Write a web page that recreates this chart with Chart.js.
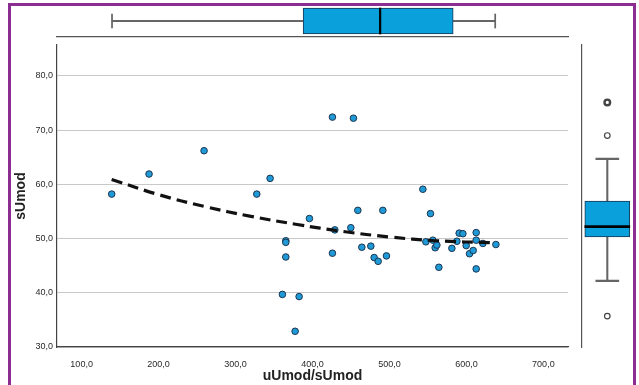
<!DOCTYPE html>
<html>
<head>
<meta charset="utf-8">
<script src="https://cdn.jsdelivr.net/npm/chart.js@4"></script>
<style>
  html, body { margin: 0; padding: 0; background: #fff; }
  body { width: 639px; height: 385px; position: relative; overflow: hidden; }
  canvas { position: absolute; }
  #frame {
    position: absolute; left: 8px; top: 3px; width: 622px; height: 420px;
    border: 3px solid #8c2d91; border-bottom: none; pointer-events: none;
  }
</style>
</head>
<body>
<canvas id="mainChart" width="639" height="385" style="left:0;top:0"></canvas>
<canvas id="topBox" width="639" height="45" style="left:0;top:0"></canvas>
<canvas id="rightBox" width="79" height="385" style="left:560px;top:0"></canvas>
<div id="frame"></div>
<script>
// uUmod/sUmod (x) and sUmod (y) per case
const uUmodRatio = [139.1, 187.6, 259.1, 327.6, 344.9, 396.0, 425.9, 453.2, 543.4, 458.9,
  491.4, 553.3, 365.3, 365.3, 365.3, 360.9, 382.6, 377.4, 429.0, 425.9,
  449.8, 464.1, 475.8, 480.1, 485.3, 496.1, 547.3, 556.4, 559.4, 561.6,
  564.2, 581.1, 587.6, 590.6, 595.4, 599.7, 604.0, 608.8, 612.7, 612.7,
  612.7, 621.4, 638.3];
const sUmod = [58.2, 61.9, 66.2, 58.2, 61.1, 53.7, 72.4, 72.2, 59.1, 55.2,
  55.2, 54.6, 49.6, 49.3, 46.6, 39.7, 39.3, 32.9, 51.6, 47.3,
  52.0, 48.4, 48.6, 46.5, 45.8, 46.8, 49.4, 49.7, 48.3, 48.8,
  44.7, 48.2, 49.5, 51.0, 50.9, 48.7, 47.2, 47.8, 51.1, 49.7,
  44.4, 49.1, 48.9];

// fitted curve
const fitX = [139, 200, 260, 320, 380, 440, 500, 560, 638];
const fitY = [60.9, 58.1, 55.9, 54.1, 52.6, 51.3, 50.3, 49.6, 49.2];

// axis ticks
const xTicks = [100, 200, 300, 400, 500, 600, 700];
const yTicks = [30, 40, 50, 60, 70, 80];

// marginal boxplots: min, q1, median, q3, max
const xBox = [139.5, 387.8, 487.9, 582.8, 637.4];
const yBox = [42.2, 50.3, 52.2, 56.9, 64.7];
const yOutliers = [75.1, 69.0, 35.7];

const X_MIN = 68, X_MAX = 732, Y_MIN = 30, Y_MAX = 85.7;

Chart.defaults.font.family = "'Liberation Sans', Arial, sans-serif";
Chart.defaults.animation = false;

const fmt = (v) => v.toFixed(1).replace(".", ",");
const noPlugins = { legend: { display: false }, tooltip: { enabled: false } };

// main scatter
new Chart(document.getElementById("mainChart"), {
  type: "scatter",
  data: {
    datasets: [
      {
        type: "line",
        data: fitX.map((x, i) => ({ x, y: fitY[i] })),
        borderColor: "#111",
        borderWidth: 3.2,
        borderDash: [11, 6],
        pointRadius: 0,
        tension: 0.4,
        fill: false,
      },
      {
        data: uUmodRatio.map((x, i) => ({ x, y: sUmod[i] })),
        pointRadius: 3.3,
        pointBackgroundColor: "#1f9ad6",
        pointBorderColor: "#1c3550",
        pointBorderWidth: 1,
      },
    ],
  },
  options: {
    responsive: false,
    plugins: noPlugins,
    layout: { padding: { left: 10, top: 45, right: 71, bottom: 0 } },
    scales: {
      x: {
        type: "linear",
        min: X_MIN,
        max: X_MAX,
        afterBuildTicks: (s) => { s.ticks = xTicks.map((v) => ({ value: v })); },
        afterFit: (s) => { s.height = 38; },
        ticks: { callback: fmt, color: "#2a2a2a", font: { size: 9 }, padding: 4, maxRotation: 0 },
        grid: { display: false },
        border: { display: true, color: "#444", width: 1.2 },
        title: {
          display: true,
          text: "uUmod/sUmod",
          color: "#222",
          font: { size: 14, weight: "bold" },
          padding: 0,
        },
      },
      y: {
        type: "linear",
        min: Y_MIN,
        max: Y_MAX,
        afterBuildTicks: (s) => { s.ticks = yTicks.map((v) => ({ value: v })); },
        afterFit: (s) => { s.width = 47; },
        ticks: { callback: fmt, color: "#2a2a2a", font: { size: 9 }, padding: 4 },
        grid: { color: "#c8c8c8", lineWidth: 1, drawTicks: false },
        border: { display: true, color: "#444", width: 1.2 },
        title: {
          display: true,
          text: "sUmod",
          color: "#222",
          font: { size: 14, weight: "bold" },
          padding: { top: 3, bottom: 0 },
        },
      },
    },
  },
});

const boxParts = (stats, boxSize, capSize, unit) => [
  { data: [[stats[4] - unit * 0.7, stats[4] + unit * 0.7]], barThickness: capSize, backgroundColor: "#666" },
  { data: [[stats[0] - unit * 0.7, stats[0] + unit * 0.7]], barThickness: capSize, backgroundColor: "#666" },
  { data: [[stats[0], stats[4]]], barThickness: 1.4, backgroundColor: "#666" },
  {
    data: [[stats[1], stats[3]]],
    barThickness: boxSize,
    backgroundColor: "#09a0dc",
    borderColor: "#1c3550",
    borderWidth: 1,
    borderSkipped: false,
  },
  { data: [[stats[2] - unit, stats[2] + unit]], barThickness: boxSize, backgroundColor: "#000" },
].map((d) => ({ ...d, grouped: false }));

// top boxplot (x variable)
new Chart(document.getElementById("topBox"), {
  type: "bar",
  data: { labels: ["x"], datasets: boxParts(xBox, 26, 14, 1.0).reverse() },
  options: {
    indexAxis: "y",
    responsive: false,
    plugins: noPlugins,
    layout: { padding: { left: 57, right: 71, top: 5, bottom: 8 } },
    scales: {
      x: {
        type: "linear",
        min: X_MIN,
        max: X_MAX,
        afterFit: (s) => { s.height = 0; },
        ticks: { display: false },
        grid: { display: false },
        border: { display: true, color: "#555", width: 1.2 },
      },
      y: { display: false, offset: true },
    },
  },
});

// right boxplot (y variable)
new Chart(document.getElementById("rightBox"), {
  type: "bar",
  data: {
    labels: ["y"],
    datasets: [
      {
        type: "line",
        data: yOutliers.map((v) => ({ x: "y", y: v })),
        showLine: false,
        pointRadius: 2.8,
        pointBackgroundColor: "#fff",
        pointBorderColor: "#444",
        pointBorderWidth: [2.4, 1.2, 1.2],
      },
      ...boxParts(yBox, 45, 23, 0.2).reverse(),
    ],
  },
  options: {
    responsive: false,
    plugins: noPlugins,
    layout: { padding: { left: 22, right: 0, top: 45, bottom: 38 } },
    scales: {
      x: { display: false, offset: true },
      y: {
        type: "linear",
        min: Y_MIN,
        max: Y_MAX,
        afterFit: (s) => { s.width = 0; },
        ticks: { display: false },
        grid: { display: false },
        border: { display: true, color: "#555", width: 1.2 },
      },
    },
  },
});
</script>
</body>
</html>
